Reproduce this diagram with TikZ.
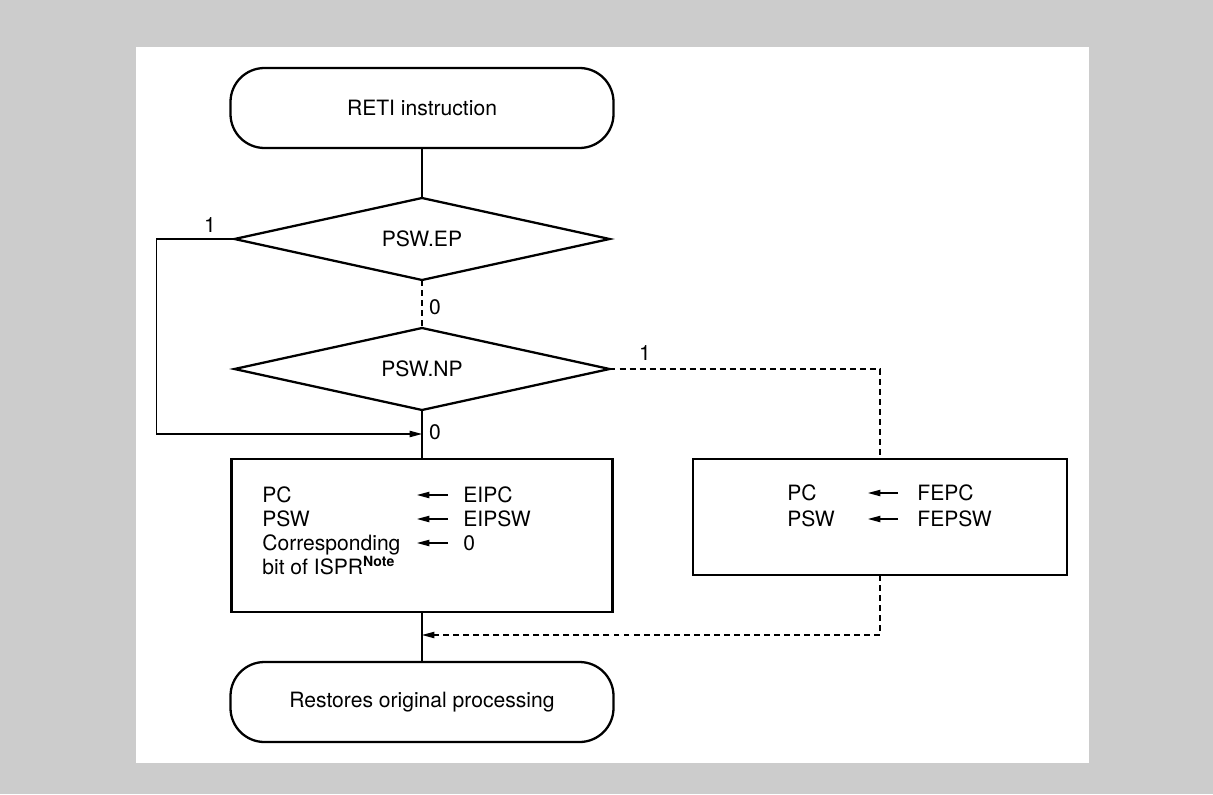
\documentclass[tikz,border=0pt]{standalone}
\usepackage{fontspec}
\setmainfont{TeX Gyre Heros}
\usetikzlibrary{positioning, arrows.meta, shapes.geometric}
\definecolor{framegray}{RGB}{204,204,204}
\tikzset{termbox/.style={draw, line width=1.3pt, rounded corners=0.68cm, minimum width=7.66cm, minimum height=1.6cm, inner sep=0pt, outer sep=0pt}}
\tikzset{decbox/.style={draw, diamond, aspect=5, line width=1.3pt, minimum width=7.5cm, minimum height=1.64cm, inner sep=0pt, outer sep=0pt}}
\tikzset{procbox/.style={draw, rectangle, line width=1.3pt, inner sep=0pt, outer sep=0pt}}
\tikzset{flow/.style={draw, line width=0.6pt}}
\tikzset{flowdash/.style={flow, dash pattern=on 3.4pt off 2.3pt}}
\tikzset{headarr/.style={-{Triangle[length=7pt,width=3.6pt]}}}
\tikzset{regtext/.style={anchor=base west, inner sep=0pt}}
\tikzset{branch/.style={inner sep=0pt}}

\begin{document}
\begin{tikzpicture}[font=\fontsize{12}{14}\selectfont]
    % frame
    \fill[framegray] (0,0) rectangle (24.26,-15.88);
    \fill[white] (2.72,-0.94) rectangle (21.78,-15.26);

    \node[termbox] (reti) at (8.44,-2.16) {RETI instruction};
    \node[decbox] (ep) at (8.44,-4.78) {PSW.EP};
    \node[decbox] (np) at (8.44,-7.38) {PSW.NP};
    \node[procbox, minimum width=7.62cm, minimum height=3.06cm] (eibox) at (8.44,-10.71) {};
    \node[procbox, minimum width=7.48cm, minimum height=2.32cm] (febox) at (17.6,-10.34) {};
    \node[termbox] (done) at (8.44,-14.04) {Restores original processing};

    \coordinate (epjoin) at (8.44,-8.68);
    \coordinate (fejoin) at (8.44,-12.7);

    % connectors
    \draw[flow] (reti) -- (ep);
    \draw[flowdash] (ep) -- (np);
    \draw[flow] (np) -- (eibox);
    \draw[flow] (eibox) -- (done);
    \draw[flow, headarr] (ep.west) -- ++(-1.56,0) |- (epjoin);
    \draw[flowdash] (np.east) -| (febox.north);
    \draw[flowdash, headarr] (febox.south) |- (fejoin);

    \node[branch] (ep1) at (4.2,-4.5) {1};
    \node[branch] (ep0) at (8.7,-6.14) {0};
    \node[branch] (np0) at (8.7,-8.64) {0};
    \node[branch] (np1) at (12.9,-7.06) {1};

    % register transfers
    \node[regtext] (pcl) at (5.24,-10.04) {PC};
    \node[regtext] (pswl) at (5.24,-10.52) {PSW};
    \node[regtext] (corr) at (5.24,-11.0) {Corresponding};
    \node[regtext] (isprl) at (5.24,-11.48) {bit of ISPR\textsuperscript{\bfseries Note}};
    \node[regtext] (eipc) at (9.26,-10.04) {EIPC};
    \node[regtext] (eipsw) at (9.26,-10.52) {EIPSW};
    \node[regtext] (zero) at (9.26,-11.0) {0};
    \foreach \src in {eipc, eipsw, zero} {
        \draw[flow, headarr] ([xshift=-0.3cm, yshift=0.14cm]\src.base west) -- ++(-0.62,0);
    }

    \node[regtext] (pcr) at (15.74,-10.0) {PC};
    \node[regtext] (pswr) at (15.74,-10.52) {PSW};
    \node[regtext] (fepc) at (18.34,-10.0) {FEPC};
    \node[regtext] (fepsw) at (18.34,-10.52) {FEPSW};
    \foreach \src in {fepc, fepsw} {
        \draw[flow, headarr] ([xshift=-0.38cm, yshift=0.14cm]\src.base west) -- ++(-0.6,0);
    }
\end{tikzpicture}
\end{document}
